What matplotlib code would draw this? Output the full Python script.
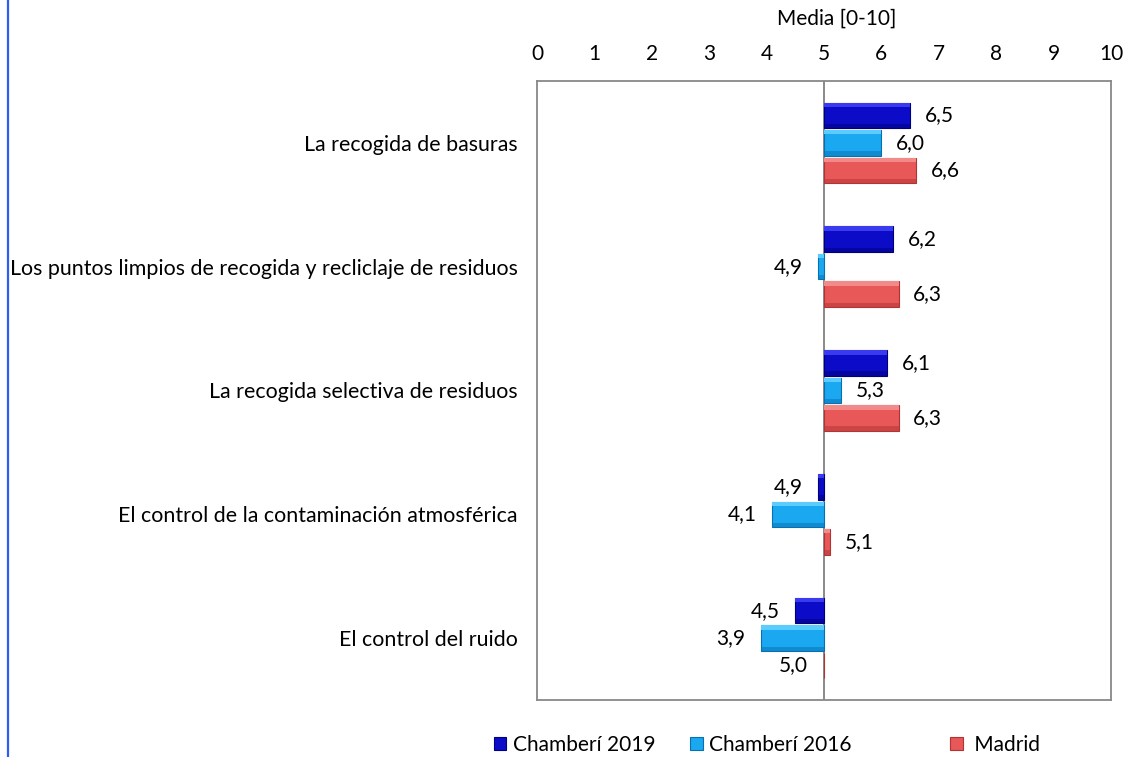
import numpy as np
import matplotlib.pyplot as plt
from matplotlib.lines import Line2D
from matplotlib.patches import Rectangle

plt.rcParams['font.family'] = ['Lato', 'DejaVu Sans']

categories = ['La recogida de basuras',
              'Los puntos limpios de recogida y recliclaje de residuos',
              'La recogida selectiva de residuos',
              'El control de la contaminación atmosférica',
              'El control del ruido']
series = ['Chamberí 2019', 'Chamberí 2016', 'Madrid']
chamberi2019 = [6.5, 6.2, 6.1, 4.9, 4.5]
chamberi2016 = [6.0, 4.9, 5.3, 4.1, 3.9]
madrid       = [6.6, 6.3, 6.3, 5.1, 5.0]

colors = ['#0C0CC8', '#1AA8F0', '#E85858']
lights = ['#3A3AEE', '#5CCCFF', '#F38A8A']
darks  = ['#00007A', '#0870B0', '#B03434']
base = 5.0

fig = plt.figure(figsize=(11.29, 7.57), dpi=100)
ax = fig.add_axes([0.4756, 0.0753, 0.5085, 0.8177])

y = np.arange(len(categories))
h = 0.206
step = 0.222
offs = [-step, 0, step]
for vals, off, c, lc, dc in zip([chamberi2019, chamberi2016, madrid], offs, colors, lights, darks):
    vals = np.array(vals)
    w = vals - base
    yy = y + off
    ax.barh(yy, w, left=base, height=h, color=c, edgecolor=dc, linewidth=0.8, zorder=2)
    # bevel look: lighter top strip, darker bottom strip
    s = h * 0.17
    ax.barh(yy - h / 2 + s / 2, w, left=base, height=s, color=lc, linewidth=0, zorder=3)
    ax.barh(yy + h / 2 - s / 2, w, left=base, height=s, color=dc, linewidth=0, alpha=0.5, zorder=3)
    for yi, v in zip(yy, vals):
        txt = f'{v:.1f}'.replace('.', ',')
        if v > base:
            ax.annotate(txt, (v, yi), xytext=(10.5, 0), textcoords='offset points',
                        ha='left', va='center', fontsize=15)
        else:
            ax.annotate(txt, (v, yi), xytext=(-11.5, 0), textcoords='offset points',
                        ha='right', va='center', fontsize=15)

ax.axvline(base, color='#808080', lw=1.3, zorder=1)
ax.set_xlim(0, 10)
ax.set_ylim(len(categories) - 0.5, -0.5)
ax.set_xticks(range(0, 11))
ax.xaxis.tick_top()
ax.text(0.5227, 1.101, 'Media [0-10]', transform=ax.transAxes, ha='center',
        va='center', fontsize=15)
ax.set_yticks(y)
ax.set_yticklabels(categories, fontsize=15.4)
ax.tick_params(axis='both', length=0)
ax.tick_params(axis='x', labelsize=15, pad=12)
ax.tick_params(axis='y', pad=14)
for sp in ax.spines.values():
    sp.set_color('#888888')
    sp.set_linewidth(1.3)

# legend entries placed individually
leg_x = [0.4375, 0.6115, 0.8415]
leg_labels = [series[0], series[1], ' ' + series[2]]
for x0, lab, c, dc in zip(leg_x, leg_labels, colors, darks):
    hnd = Rectangle((0, 0), 1, 1, facecolor=c, edgecolor=dc, linewidth=0.8)
    lg = fig.legend(handles=[hnd], labels=[lab], loc='center left',
                    bbox_to_anchor=(x0, 0.016), frameon=False, fontsize=15,
                    handlelength=0.6, handleheight=0.6, handletextpad=0.3,
                    borderpad=0, borderaxespad=0)

fig.add_artist(Line2D([0.0075, 0.0075], [0, 1], color='#2F5CF2', lw=1.6))

fig.savefig('out.png', dpi=100)
